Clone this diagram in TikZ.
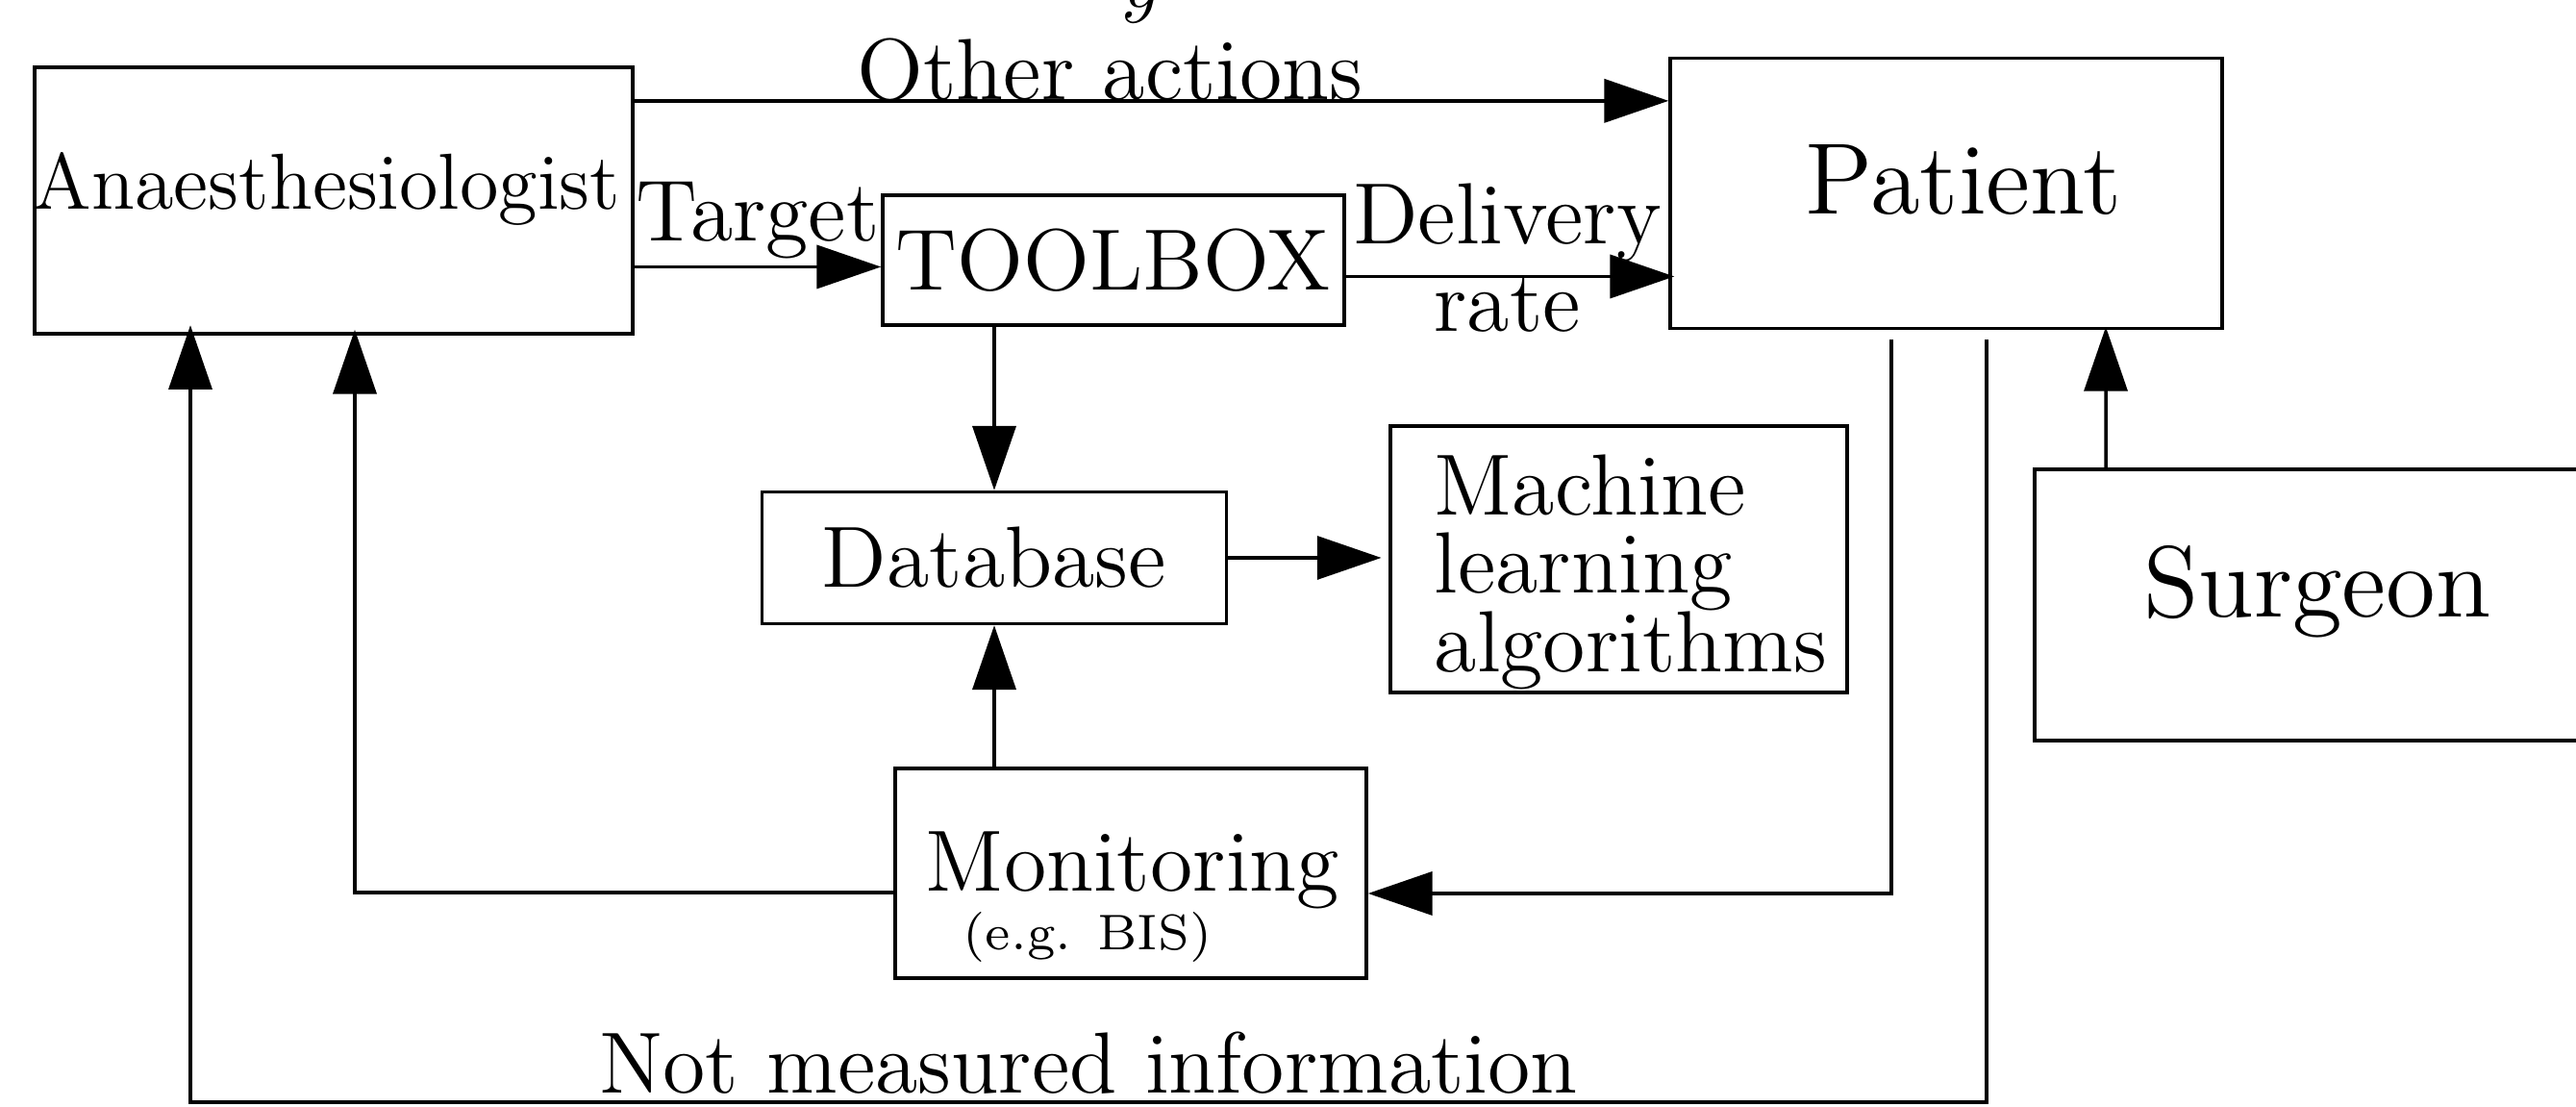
\documentclass[tikz,border=0pt]{standalone}
\usepackage{fontspec}
\usetikzlibrary{arrows.meta}

\newcommand{\mainsize}{\fontsize{12.85}{14}\selectfont}
\newcommand{\bigsize}{\fontsize{14.99}{17}\selectfont}

\tikzset{
  box/.style={draw, rectangle, inner sep=0pt},
  lbl/.style={inner sep=0pt},
  arr/.style={-{Triangle[length=9.5pt,width=6.4pt]}},
}

\begin{document}
\begin{tikzpicture}[font=\mainsize, line width=0.5pt]
\useasboundingbox (0,0) rectangle (13.395,5.755);

% boxes
\node[box, minimum width=3.11cm, minimum height=1.385cm] (anae) at (1.735,4.7125) {};
\node[lbl, anchor=base, font=\fontsize{11.75}{14}\selectfont] (anaetext) at (1.70,4.665) {Anaesthesiologist};
\node[box, minimum width=2.40cm, minimum height=0.675cm] (tool) at (5.79,4.4025) {TOOLBOX};
\node[box, minimum width=2.87cm, minimum height=1.405cm] (pat) at (10.12,4.749) {};
\node[lbl, anchor=base, font=\bigsize] (pattext) at (10.21,4.64) {Patient};
\node[box, minimum width=2.415cm, minimum height=0.685cm] (data) at (5.17,2.855) {Database};
\node[box, minimum width=2.375cm, minimum height=1.385cm] (ml) at (8.4175,2.8475) {};
\node[lbl, anchor=north west, align=left, font=\fontsize{12.85}{11.6}\selectfont] (mltext) at (7.45,3.40) {Machine\\learning\\algorithms};
\node[box, minimum width=2.45cm, minimum height=1.09cm] (mon) at (5.88,1.215) {};
\node[lbl, anchor=base] (montext) at (5.89,1.12) {Monitoring};
\node[lbl, anchor=base, font=\fontsize{7.4}{9}\selectfont] (monnote) at (5.655,0.815) {(e.g. BIS)};
\node[box, minimum width=2.94cm, minimum height=1.41cm] (surg) at (12.05,2.61) {};
\node[lbl, anchor=base, font=\bigsize] (surgtext) at (12.05,2.545) {Surgeon};
\node[lbl, anchor=base] (ytext) at (5.94,5.715) {$y$};

% top arrows
\draw[arr] ([yshift=5.18mm]anae.east) -- node[lbl, pos=0.46, above=-0.3pt] (othertext) {Other actions} ([yshift=5.18mm]anae.east -| pat.west);
\draw[arr] ([yshift=-0.35mm]tool.west -| anae.east) -- node[lbl, midway, anchor=base, yshift=3.8pt] (targettext) {Target} ([yshift=-0.35mm]tool.west);
\draw[arr, shorten >=-0.85pt] ([yshift=-0.85mm]tool.east) -- node[lbl, midway, align=center, yshift=2.8pt, font=\fontsize{12.85}{12.9}\selectfont] (deltext) {Delivery\\rate} ([yshift=-0.85mm]tool.east -| pat.west);

% database
\draw[arr] (data.north |- tool.south) -- (data.north);
\draw[arr] (data.south |- mon.north) -- (data.south);
\draw[arr, shorten >=1.1pt] (data.east) -- (data.east -| ml.west);

% feedback
\draw[arr, shorten >=-0.85pt] ([yshift=-1mm]mon.west) -| ([xshift=1.1mm]anae.south);
\draw[arr] ([xshift=-2.85mm,yshift=-0.5mm]pat.south) |- ([yshift=-1.05mm]mon.east);
\coordinate (nmstart) at ([xshift=2.1mm,yshift=-0.5mm]pat.south);
\coordinate (nmend) at ([xshift=-7.45mm]anae.south);
\coordinate (nmbase) at (0,0.025);
\draw[arr, shorten >=-1.5pt] (nmstart) -- (nmstart |- nmbase) -- node[lbl, midway, above=0.9pt] (nmtext) {Not measured information} (nmend |- nmbase) -- (nmend);
\draw[arr, shorten >=-0.5pt] ([xshift=-11mm]surg.north) -- ([xshift=8.3mm]pat.south);
\end{tikzpicture}
\end{document}
